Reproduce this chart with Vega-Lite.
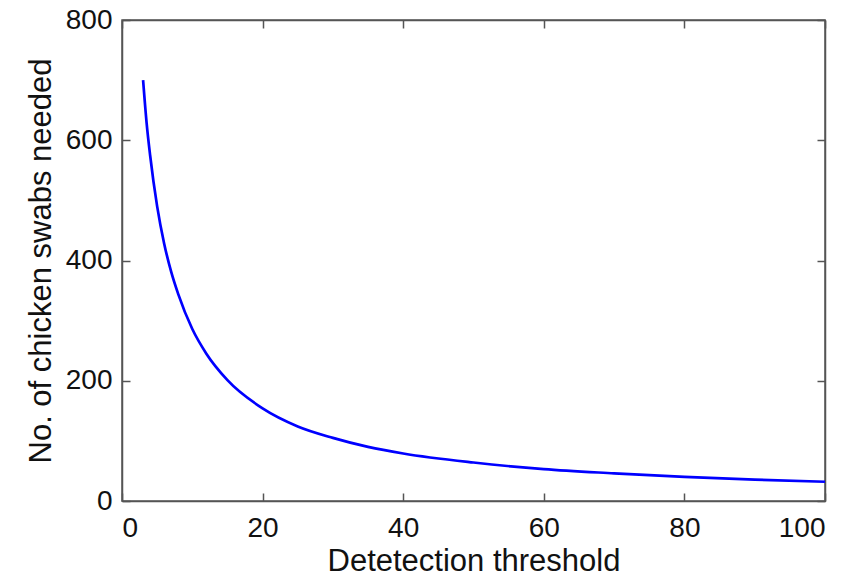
{
  "$schema": "https://vega.github.io/schema/vega-lite/v6.json",
  "width": 703,
  "height": 481,
  "autosize": "none",
  "padding": {"left": 122, "top": 20, "right": 30, "bottom": 77},
  "background": "white",
  "config": {
    "font": "Liberation Sans",
    "view": {"stroke": "#555555", "strokeWidth": 1.5},
    "axis": {
      "grid": false,
      "domainColor": "#555555",
      "domainWidth": 1.5,
      "tickColor": "#555555",
      "tickWidth": 1.5,
      "tickSize": -8,
      "labelFont": "Liberation Sans",
      "labelFontSize": 28,
      "labelColor": "#111111",
      "titleFont": "Liberation Sans",
      "titleFontSize": 31,
      "titleFontWeight": "normal",
      "titleColor": "#111111"
    }
  },
  "data": {
    "values": [
      {"threshold": 3, "swabs": 700},
      {"threshold": 3.5, "swabs": 629},
      {"threshold": 4, "swabs": 575},
      {"threshold": 5, "swabs": 490},
      {"threshold": 6, "swabs": 428},
      {"threshold": 7, "swabs": 381},
      {"threshold": 8, "swabs": 344},
      {"threshold": 10, "swabs": 286},
      {"threshold": 12, "swabs": 245},
      {"threshold": 15, "swabs": 201},
      {"threshold": 20, "swabs": 154},
      {"threshold": 25, "swabs": 124},
      {"threshold": 30, "swabs": 105},
      {"threshold": 35, "swabs": 90},
      {"threshold": 40, "swabs": 79},
      {"threshold": 50, "swabs": 64},
      {"threshold": 60, "swabs": 53},
      {"threshold": 70, "swabs": 46},
      {"threshold": 80, "swabs": 40},
      {"threshold": 90, "swabs": 35.6},
      {"threshold": 100, "swabs": 32}
    ]
  },
  "layer": [
    {
      "mark": {"type": "line", "color": "#0000ff", "strokeWidth": 2.7, "interpolate": "monotone"},
      "encoding": {
        "x": {
          "field": "threshold", "type": "quantitative",
          "scale": {"domain": [0, 100], "nice": false},
          "axis": {"orient": "bottom", "values": [0, 20, 40, 60, 80, 100], "title": "Detetection threshold", "labelPadding": 21, "titlePadding": 4}
        },
        "y": {
          "field": "swabs", "type": "quantitative",
          "scale": {"domain": [0, 800], "nice": false},
          "axis": {"orient": "left", "values": [0, 200, 400, 600, 800], "title": "No. of chicken swabs needed", "labelPadding": 18, "titlePadding": 8}
        }
      }
    },
    {
      "mark": {"type": "line", "opacity": 0},
      "encoding": {
        "x": {
          "field": "threshold", "type": "quantitative",
          "scale": {"domain": [0, 100], "nice": false},
          "axis": {"orient": "top", "values": [0, 20, 40, 60, 80, 100], "labels": false, "title": null}
        },
        "y": {
          "field": "swabs", "type": "quantitative",
          "scale": {"domain": [0, 800], "nice": false},
          "axis": {"orient": "right", "values": [0, 200, 400, 600, 800], "labels": false, "title": null}
        }
      }
    }
  ],
  "resolve": {"axis": {"x": "independent", "y": "independent"}}
}
